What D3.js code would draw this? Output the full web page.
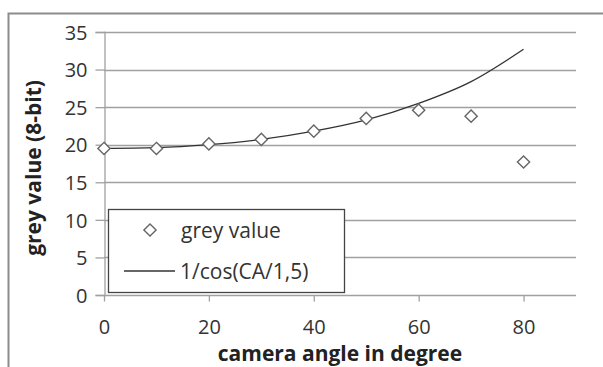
<!DOCTYPE html>
<html>
<head>
<meta charset="utf-8">
<script src="https://cdn.jsdelivr.net/npm/d3@7"></script>
<style>
  body { margin: 0; background: #fff; }
  text { font-family: "Open Sans", sans-serif; }
</style>
</head>
<body>
<div id="chart"></div>
<script>
// measured grey values per camera angle
const angles = [0, 10, 20, 30, 40, 50, 60, 70, 80];
const greyValues = [19.5, 19.5, 20.1, 20.7, 21.8, 23.5, 24.6, 23.8, 17.7];
// model curve 1/cos(CA/1,5)
const modelAngles = [0, 10, 20, 30, 40, 50, 60, 70, 80];
const modelValues = [19.5, 19.6, 20.0, 20.7, 21.8, 23.3, 25.5, 28.4, 32.7];
const yTicks = [0, 5, 10, 15, 20, 25, 30, 35];
const xTicks = [0, 20, 40, 60, 80];

const width = 603, height = 367;
const plot = { left: 104, right: 576, top: 32, bottom: 295 };

const svg = d3.select("#chart")
  .append("svg")
  .attr("width", width)
  .attr("height", height);

// outer chart frame (clipped at right and bottom like the original)
svg.append("rect")
  .attr("x", 8.5).attr("y", 13.5)
  .attr("width", 620).attr("height", 380)
  .attr("fill", "none")
  .attr("stroke", "#8c8c8c")
  .attr("stroke-width", 2);

const x = d3.scaleLinear().domain([0, 90]).range([plot.left, plot.right]);
const y = d3.scaleLinear().domain([0, 35]).range([plot.bottom, plot.top]);

// horizontal gridlines
svg.append("g")
  .selectAll("line")
  .data(yTicks.filter(d => d > 0))
  .enter()
  .append("line")
  .attr("x1", plot.left).attr("x2", plot.right)
  .attr("y1", d => Math.round(y(d)) + 0.5)
  .attr("y2", d => Math.round(y(d)) + 0.5)
  .attr("stroke", "#a0a0a0")
  .attr("stroke-width", 1.3);

// y axis
const yAxis = svg.append("g")
  .attr("transform", "translate(" + (plot.left + 0.5) + ",0)")
  .call(d3.axisLeft(y).tickValues(yTicks).tickSize(9).tickPadding(8));
yAxis.selectAll("text").attr("dy", "0.36em");

// x axis
const xAxis = svg.append("g")
  .attr("transform", "translate(0," + (plot.bottom + 0.5) + ")")
  .call(d3.axisBottom(x).tickValues(xTicks).tickSize(6).tickPadding(18));

[yAxis, xAxis].forEach(a => {
  a.select(".domain").attr("stroke", "#a0a0a0").attr("stroke-width", 1.3);
  a.selectAll(".tick line").attr("stroke", "#a0a0a0").attr("stroke-width", 1.3);
  a.selectAll("text")
    .attr("font-family", "'Open Sans', sans-serif")
    .attr("font-size", 20)
    .attr("fill", "#333");
});
xAxis.select(".domain").attr("d", "M" + plot.left + ",0H" + plot.right);

// model curve
svg.append("path")
  .datum(modelAngles.map((a, i) => [a, modelValues[i]]))
  .attr("fill", "none")
  .attr("stroke", "#333")
  .attr("stroke-width", 1.3)
  .attr("d", d3.line()
    .x(d => x(d[0]))
    .y(d => y(d[1]))
    .curve(d3.curveMonotoneX));

// diamond markers
const diamond = d3.symbol().type(d3.symbolDiamond2).size(95);
svg.append("g")
  .selectAll("path")
  .data(angles.map((a, i) => [a, greyValues[i]]))
  .enter()
  .append("path")
  .attr("d", diamond)
  .attr("transform", d => "translate(" + x(d[0]) + "," + y(d[1]) + ")")
  .attr("fill", "#fff")
  .attr("stroke", "#666")
  .attr("stroke-width", 1.4);

// legend
const legend = svg.append("g");
legend.append("rect")
  .attr("x", 108.5).attr("y", 209.5)
  .attr("width", 236).attr("height", 83)
  .attr("fill", "#fff")
  .attr("stroke", "#444")
  .attr("stroke-width", 1.3);
legend.append("path")
  .attr("d", diamond)
  .attr("transform", "translate(150,230)")
  .attr("fill", "#fff")
  .attr("stroke", "#666")
  .attr("stroke-width", 1.4);
legend.append("text")
  .attr("x", 181).attr("y", 230).attr("dy", "0.36em")
  .attr("font-size", 21).attr("fill", "#333")
  .text("grey value");
legend.append("line")
  .attr("x1", 124).attr("x2", 175)
  .attr("y1", 271).attr("y2", 271)
  .attr("stroke", "#333").attr("stroke-width", 1.3);
legend.append("text")
  .attr("x", 180).attr("y", 271).attr("dy", "0.36em")
  .attr("font-size", 21).attr("fill", "#333")
  .text("1/cos(CA/1,5)");

// axis titles
svg.append("text")
  .attr("x", 340).attr("y", 361)
  .attr("text-anchor", "middle")
  .attr("font-size", 21).attr("font-weight", "bold").attr("fill", "#222")
  .text("camera angle in degree");
svg.append("text")
  .attr("transform", "translate(41,168) rotate(-90)")
  .attr("text-anchor", "middle")
  .attr("font-size", 21).attr("font-weight", "bold").attr("fill", "#222")
  .text("grey value (8-bit)");
</script>
</body>
</html>
